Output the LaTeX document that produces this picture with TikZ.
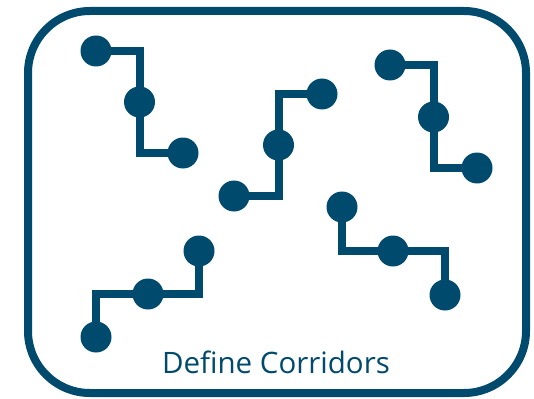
\documentclass[tikz,border=0pt]{standalone}
\usepackage{fontspec}
\setmainfont{Open Sans}
\usepackage{tikz}

\definecolor{corridor}{HTML}{004A6E}

\begin{document}
\begin{tikzpicture}[x=1pt,y=-1pt,
		dot/.style={circle,fill=corridor,inner sep=0pt,minimum size=31pt},
		track/.style={corridor,line width=8pt}]
			\useasboundingbox (0,0) rectangle (534,398);
			% frame
			\draw[corridor,line width=8pt,rounded corners=62pt] (28,11) rectangle (526,393);
			% top left corridor
			\node[dot] (c1a) at (96,51) {};
			\node[dot] (c1b) at (139.5,102) {};
			\node[dot] (c1c) at (183,153) {};
			\draw[track] (c1a.center) -| (c1b.center) |- (c1c.center);
			% top right corridor
			\node[dot] (c2a) at (390,65) {};
			\node[dot] (c2b) at (433.5,117) {};
			\node[dot] (c2c) at (477,168) {};
			\draw[track] (c2a.center) -| (c2b.center) |- (c2c.center);
			% middle corridor
			\node[dot] (c3a) at (322,94) {};
			\node[dot] (c3b) at (278.5,145) {};
			\node[dot] (c3c) at (234,196) {};
			\draw[track] (c3a.center) -| (c3b.center) |- (c3c.center);
			% bottom left corridor
			\node[dot] (c4a) at (199,251) {};
			\node[dot] (c4b) at (148,294) {};
			\node[dot] (c4c) at (96,337) {};
			\draw[track] (c4a.center) |- (c4b.center) -| (c4c.center);
			% bottom right corridor
			\node[dot] (c5a) at (342,207) {};
			\node[dot] (c5b) at (393,251) {};
			\node[dot] (c5c) at (445,295) {};
			\draw[track] (c5a.center) |- (c5b.center) -| (c5c.center);
			% caption
			\node[corridor,anchor=base,font=\fontsize{29.5}{35}\selectfont] (title) at (276,373) {Define Corridors};
		\end{tikzpicture}
\end{document}
